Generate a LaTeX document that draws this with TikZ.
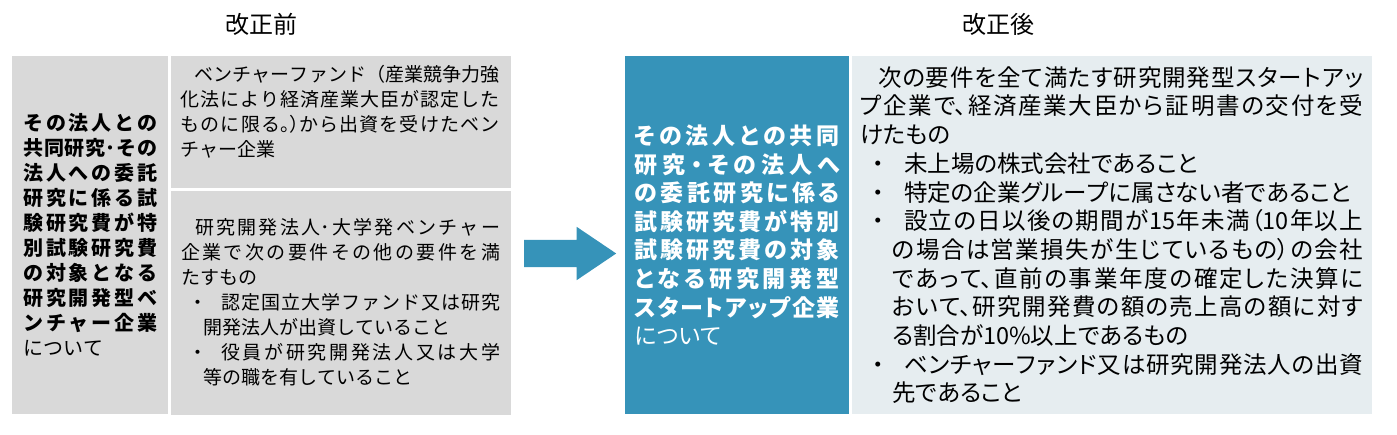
\documentclass[tikz,border=0pt]{standalone}
\usepackage{fontspec}
\setmainfont{Noto Sans CJK JP}
\newfontfamily\jpprop[RawFeature=+palt]{Noto Sans CJK JP}
\usetikzlibrary{shapes,arrows,positioning}

\XeTeXlinebreaklocale "ja"
\XeTeXlinebreakskip=0pt plus 4pt minus 0.6pt
\setlength{\parindent}{0pt}

\definecolor{oldgray}{RGB}{217,217,217}
\definecolor{reformblue}{RGB}{54,147,185}
\definecolor{reformpale}{RGB}{230,237,240}

\newcommand{\oldmark}{\makebox[40pt][l]{\makebox[34pt][c]{・}}}
\newcommand{\reqmark}{\makebox[44pt][l]{\makebox[36pt][c]{・}}}

\begin{document}
\begin{tikzpicture}[
        x=1pt, y=-1pt,
        heading/.style={font=\fontsize{24pt}{28pt}\selectfont, inner sep=0pt},
        cell/.style={rectangle, inner sep=0pt, anchor=north west},
        graycell/.style={cell, fill=oldgray, font=\fontsize{19pt}{25pt}\selectfont},
        bluecell/.style={cell, fill=reformblue, text=white,
            font=\jpprop\fontsize{23pt}{28.6pt}\selectfont},
        palecell/.style={cell, fill=reformpale,
            font=\jpprop\fontsize{23.5pt}{28.7pt}\selectfont},
        bigarrow/.style={single arrow, fill=reformblue, draw=none,
            minimum height=92pt, minimum width=0pt, inner xsep=0pt, inner ysep=13.5pt,
            single arrow head extend=13pt, single arrow tip angle=68,
            single arrow head indent=0pt, anchor=tail}
    ]
    \useasboundingbox (0,0) rectangle (1397,435);

    % Headings
    \node[heading] (before) at (261,24) {改正前};
    \node[heading] (after) at (998,24) {改正後};

    % Before
    \node[graycell, minimum width=156pt, minimum height=358pt, text width=134pt,
        align=justify, font=\fontsize{20pt}{25pt}\selectfont] (oldkey) at (12,56) {%
        \textbf{その法人との\linebreak
        共同研究･その\linebreak
        法人への委託\linebreak
        研究に係る試\linebreak
        験研究費が特\linebreak
        別試験研究費\linebreak
        の対象となる\linebreak
        研究開発型ベ\linebreak
        ンチャー企業}\linebreak
        について\par};
    \node[graycell, minimum width=340pt, minimum height=132pt] (oldfund)
        at ([xshift=2pt]oldkey.north east) {};
    \node[graycell, fill=none, text width=319pt, align=justify] (oldfundtxt)
        at ([xshift=10pt, yshift=-9pt]oldfund.north west) {%
        \hspace*{14pt}ベンチャーファンド（産業競争力強\linebreak
        化法により経済産業大臣が認定した\linebreak
        ものに限る{\jpprop 。）}から出資を受けたベン\linebreak
        チャー企業\par};
    \node[graycell, minimum width=340pt, minimum height=224pt, text width=319pt,
        align=justify] (oldlab) at ([yshift=-2pt]oldfund.south west) {%
        \hspace*{14pt}研究開発法人･大学発ベンチャー\linebreak
        企業で次の要件その他の要件を満\linebreak
        たすもの\par
        \hangindent=22pt\hangafter=1 \oldmark 認定国立大学ファンド又は研究\linebreak
        開発法人が出資していること\par
        \hangindent=22pt\hangafter=1 \oldmark 役員が研究開発法人又は大学\linebreak
        等の職を有していること\par};

    % Arrow
    \node[bigarrow] (arrow) at (524,253.5) {};

    % After
    \node[bluecell, minimum width=224pt, minimum height=358pt, text width=205pt,
        align=justify] (newkey) at (625,56) {%
        \textbf{その法人との共同\linebreak
        研究{\rmfamily ・}その法人へ\linebreak
        の委託研究に係る\linebreak
        試験研究費が特別\linebreak
        試験研究費の対象\linebreak
        となる研究開発型\linebreak
        スタートアップ企業}\linebreak
        について\par};
    \node[palecell, minimum width=520pt, minimum height=358pt, text width=503pt,
        align=justify] (newreq) at ([xshift=2pt]newkey.north east) {%
        \hspace*{18pt}次の要件を全て満たす研究開発型スタートアッ\linebreak
        プ企業で、経済産業大臣から証明書の交付を受\linebreak
        けたもの\par
        \hangindent=32pt\hangafter=1 \reqmark 未上場の株式会社であること\par
        \hangindent=32pt\hangafter=1 \reqmark 特定の企業グループに属さない者であること\par
        \hangindent=32pt\hangafter=1 \reqmark 設立の日以後の期間が15年未満（10年以上\linebreak
        の場合は営業損失が生じているもの）の会社\linebreak
        であって、直前の事業年度の確定した決算に\linebreak
        おいて、研究開発費の額の売上高の額に対す\linebreak
        る割合が10\%以上であるもの\par
        \hangindent=32pt\hangafter=1 \reqmark ベンチャーファンド又は研究開発法人の出資\linebreak
        先であること\par};
\end{tikzpicture}
\end{document}
